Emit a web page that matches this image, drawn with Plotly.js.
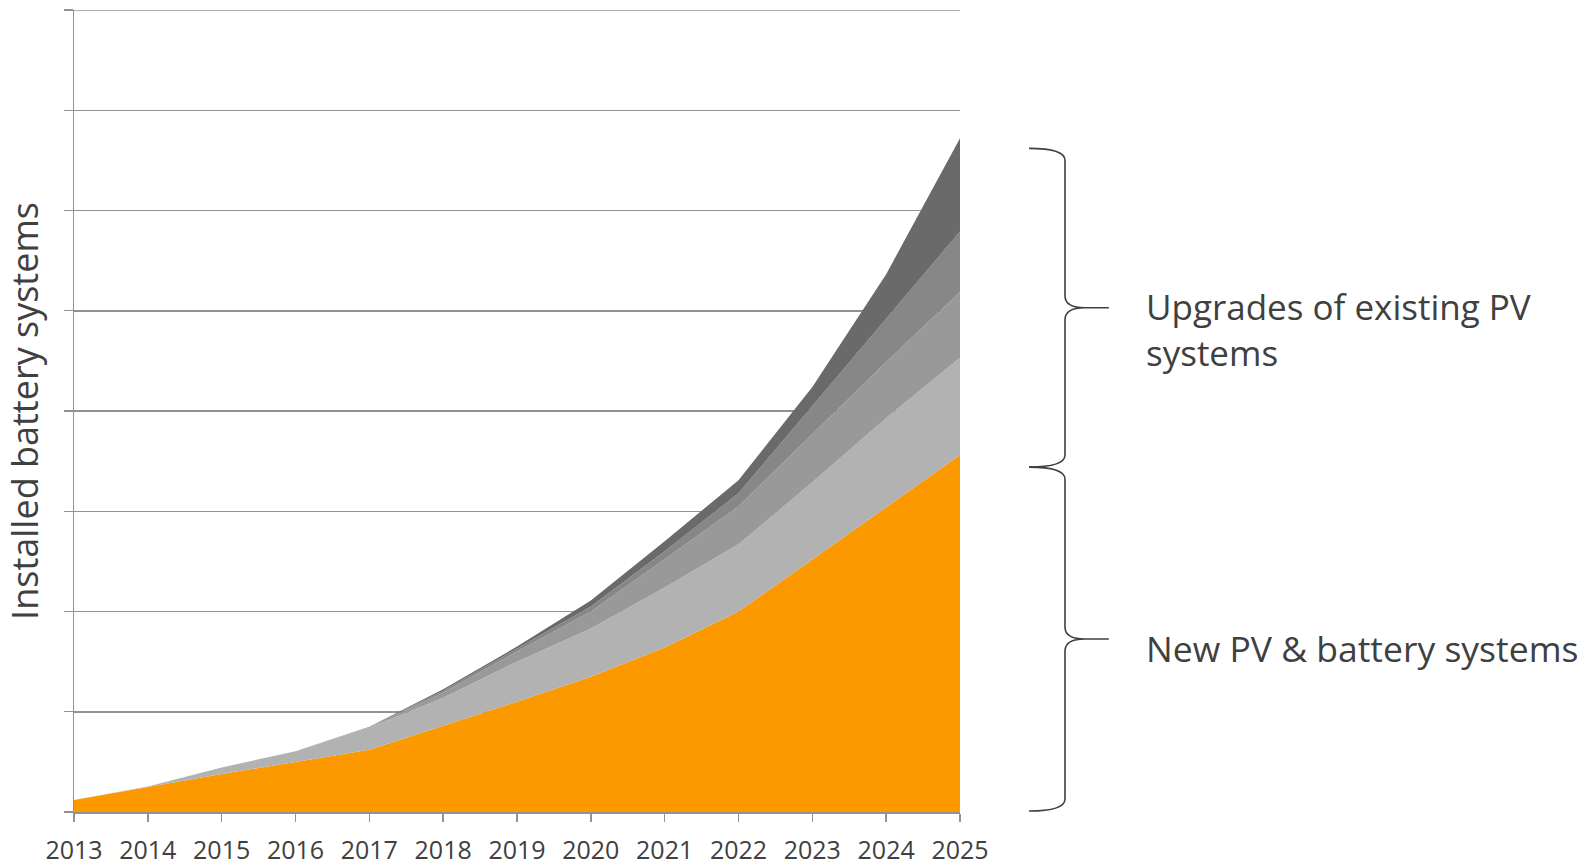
<!DOCTYPE html>
<html>
<head>
<meta charset="utf-8">
<script src="https://cdn.plot.ly/plotly-3.0.1.min.js"></script>
<style>
  html, body { margin: 0; padding: 0; background: #ffffff; }
  #chart { width: 1588px; height: 865px; }
</style>
</head>
<body>
<div id="chart"></div>
<script>
// ---- Data (arbitrary units; one gridline = 1 unit) ----
const years = [2013, 2014, 2015, 2016, 2017, 2018, 2019, 2020, 2021, 2022, 2023, 2024, 2025];
const newPvBattery   = [0.12, 0.25, 0.38, 0.50, 0.62, 0.86, 1.10, 1.35, 1.64, 2.00, 2.52, 3.04, 3.56];
const upgradeLayer1  = [0.00, 0.005, 0.065, 0.105, 0.22, 0.28, 0.40, 0.48, 0.60, 0.67, 0.77, 0.89, 0.97];
const upgradeLayer2  = [0.00, 0.00, 0.00, 0.00, 0.005, 0.05, 0.10, 0.17, 0.28, 0.38, 0.48, 0.56, 0.66];
const upgradeLayer3  = [0.00, 0.00, 0.00, 0.00, 0.005, 0.02, 0.03, 0.05, 0.08, 0.13, 0.28, 0.43, 0.60];
const upgradeLayer4  = [0.00, 0.00, 0.00, 0.00, 0.00, 0.015, 0.02, 0.06, 0.10, 0.13, 0.19, 0.445, 0.93];
const tickYears = years;
const tickLabels = years.map(String);
const yMax = 8;
const bracketUpgrade = [3.44, 6.62];   // bracket span (y units)
const bracketNew = [0.01, 3.44];
const labelUpgrade = "Upgrades of existing PV<br>systems";
const labelNew = "New PV & battery systems";
const yTitle = "Installed battery systems";

// ---- Styles ----
const series = [
  { y: newPvBattery,  color: '#FD9900', name: 'New PV & battery systems' },
  { y: upgradeLayer1, color: '#B2B2B2', name: 'Upgrades 1' },
  { y: upgradeLayer2, color: '#999999', name: 'Upgrades 2' },
  { y: upgradeLayer3, color: '#878787', name: 'Upgrades 3' },
  { y: upgradeLayer4, color: '#6A6A6A', name: 'Upgrades 4' }
];

const traces = series.map(s => ({
  type: 'scatter',
  mode: 'lines',
  x: years,
  y: s.y,
  name: s.name,
  stackgroup: 'one',
  line: { width: 0, color: s.color },
  fillcolor: s.color,
  hoverinfo: 'x+y+name'
}));

const textColor = '#404040';
const font = 'Open Sans, sans-serif';
const gridCol = '#929292';

// Curly bracket built in x-paper / y-data coordinates
function bracePath(y0, y1) {
  const xe = 1.0779, xv = 1.1185, xm = 1.1410, xt = 1.168, r = 0.12;
  const ym = (y0 + y1) / 2;
  return `M ${xe},${y1} Q ${xv},${y1} ${xv},${y1 - r} ` +
         `L ${xv},${ym + r} Q ${xv},${ym} ${xm},${ym} L ${xt},${ym} L ${xm},${ym} ` +
         `Q ${xv},${ym} ${xv},${ym - r} L ${xv},${y0 + r} Q ${xv},${y0} ${xe},${y0}`;
}

const layout = {
  width: 1588,
  height: 865,
  margin: { l: 74, r: 628, t: 10, b: 52.6, pad: 0 },
  paper_bgcolor: '#ffffff',
  plot_bgcolor: '#ffffff',
  showlegend: false,
  font: { family: font, color: textColor },
  xaxis: {
    type: 'linear',
    range: [2013, 2025],
    tickvals: tickYears,
    ticktext: tickLabels,
    showgrid: false,
    zeroline: false,
    showline: true,
    linecolor: gridCol,
    linewidth: 2,
    ticks: 'outside',
    ticklen: 8,
    tickwidth: 1.5,
    tickcolor: gridCol,
    ticklabelstandoff: 7,
    tickfont: { family: font, size: 25, color: textColor },
    fixedrange: true
  },
  yaxis: {
    range: [0, yMax],
    dtick: 1,
    tick0: 0,
    showgrid: true,
    gridcolor: gridCol,
    gridwidth: 1.5,
    zeroline: false,
    showline: true,
    linecolor: gridCol,
    linewidth: 1.5,
    ticks: 'outside',
    ticklen: 9,
    tickwidth: 1.4,
    tickcolor: gridCol,
    showticklabels: false,
    title: { text: yTitle, font: { family: font, size: 36, color: textColor }, standoff: 16 },
    fixedrange: true
  },
  shapes: [
    // top gridline (Plotly omits the gridline at the range edge)
    { type: 'line', xref: 'paper', yref: 'y', x0: 0, x1: 1, y0: yMax, y1: yMax,
      line: { color: gridCol, width: 1.5 }, layer: 'below' },
    { type: 'path', xref: 'paper', yref: 'y', path: bracePath(bracketUpgrade[0], bracketUpgrade[1]),
      line: { color: '#404040', width: 1.6 }, fillcolor: 'rgba(0,0,0,0)' },
    { type: 'path', xref: 'paper', yref: 'y', path: bracePath(bracketNew[0], bracketNew[1]),
      line: { color: '#404040', width: 1.6 }, fillcolor: 'rgba(0,0,0,0)' }
  ],
  annotations: [
    { xref: 'paper', yref: 'y', x: 1.2075, y: 4.81, xanchor: 'left', yanchor: 'middle', align: 'left',
      text: labelUpgrade, showarrow: false, font: { family: font, size: 35, color: textColor } },
    { xref: 'paper', yref: 'y', x: 1.2075, y: 1.64, xanchor: 'left', yanchor: 'middle', align: 'left',
      text: labelNew, showarrow: false, font: { family: font, size: 35.5, color: textColor } }
  ]
};

Plotly.newPlot('chart', traces, layout, { displayModeBar: false, staticPlot: true });
</script>
</body>
</html>
